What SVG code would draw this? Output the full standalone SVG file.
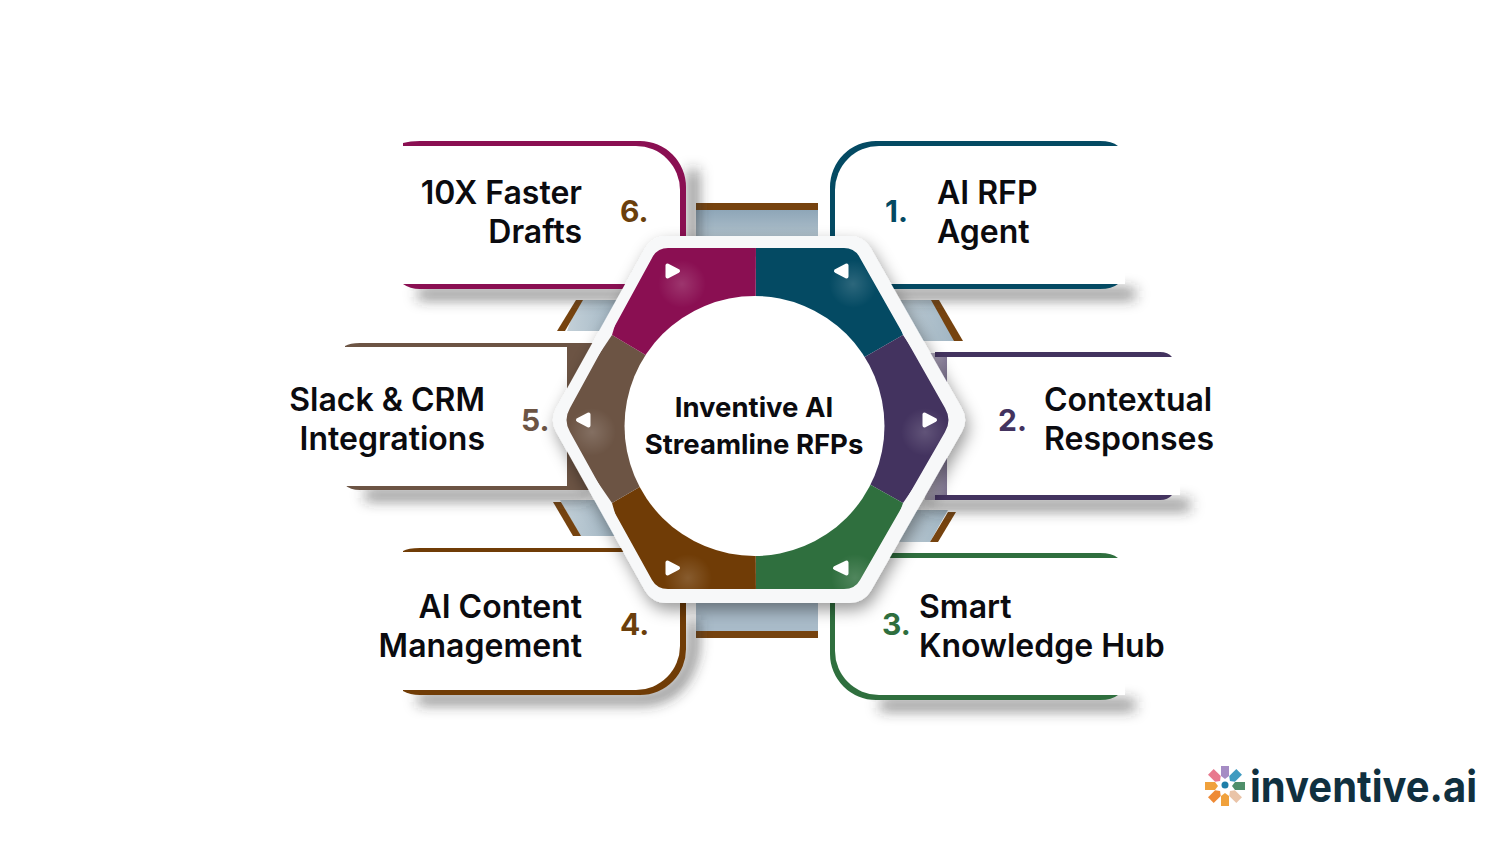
<svg xmlns="http://www.w3.org/2000/svg" width="1500" height="844" viewBox="0 0 1500 844">
<defs>
<style>
.lbl{font-family:"Inter","Liberation Sans",sans-serif;font-weight:600;font-size:32px;fill:#0b0b0f}
.num{font-family:"Inter","Liberation Sans",sans-serif;font-weight:700;font-size:30px}
.ctr{font-family:"Inter","Liberation Sans",sans-serif;font-weight:700;font-size:27.500px;fill:#0b0b0f;text-anchor:middle}
.end{text-anchor:end}
.tri{fill:#fff;stroke:#fff;stroke-width:4;stroke-linejoin:round}
.sh{fill:none;stroke:#333;stroke-opacity:.65;stroke-width:10;stroke-linecap:butt}
.in{fill:#fff}
.gl{fill:url(#glow)}
.br{fill:#76430f}
</style>
<filter id="blur" filterUnits="userSpaceOnUse" x="0" y="0" width="1500" height="844"><feGaussianBlur stdDeviation="7"/></filter>
<filter id="hexsh" filterUnits="userSpaceOnUse" x="0" y="0" width="1500" height="844"><feDropShadow dx="3" dy="7" stdDeviation="8" flood-color="#000" flood-opacity=".4"/></filter>
<radialGradient id="glow"><stop offset="0" stop-color="#fff" stop-opacity=".16"/><stop offset="1" stop-color="#fff" stop-opacity="0"/></radialGradient>
<linearGradient id="gv" x1="0" y1="0" x2="0" y2="1"><stop offset="0" stop-color="#8ea6b8"/><stop offset="1" stop-color="#b3c3cd"/></linearGradient>
<linearGradient id="gh" x1="0" y1="0" x2="1" y2="0"><stop offset="0" stop-color="#c3d0d8"/><stop offset="1" stop-color="#9fb4c2"/></linearGradient>
<linearGradient id="gp" x1="0" y1="0" x2="1" y2="0"><stop offset="0" stop-color="#43335f" stop-opacity=".3"/><stop offset="1" stop-color="#43335f" stop-opacity=".8"/></linearGradient>
<clipPath id="hexclip"><path d="M668 248H844Q855 248 860 258L945 408Q952 420 945 432L860 580Q855 589 844 589H668Q657 589 652 580L570 432Q563 420 570 408L652 258Q657 248 668 248Z"/></clipPath>
<path id="petal" d="M-4 -20H4V-10L0 -7L-4 -10Z"/>
</defs>
<rect width="1500" height="844" fill="#fff"/>

<g id="connectors">
<rect x="696" y="210" width="122" height="30" fill="url(#gv)"/>
<rect class="br" x="696" y="203" width="122" height="7"/>
<rect x="696" y="600" width="122" height="32" fill="#a9bbc9"/>
<rect class="br" x="696" y="631" width="122" height="7"/>
<polygon points="578,300 625,300 625,331 567,331" fill="url(#gh)"/>
<polygon class="br" points="576,300 583,300 565,331 557,331"/>
<polygon points="890,300 933,300 958,341 890,341" fill="url(#gh)"/>
<polygon class="br" points="931,300 939,300 963,341 954,341"/>
<polygon points="560,500 620,500 620,536 580,536" fill="url(#gh)"/>
<polygon class="br" points="553,502 561,502 581,536 573,536"/>
<polygon points="890,510 948,510 930,542 890,542" fill="url(#gh)"/>
<polygon class="br" points="948,512 956,512 938,542 930,542"/>
</g>

<g id="node-6">
<path class="sh" d="M418 294H640Q680 294 693 250V170" filter="url(#blur)"/>
<path fill="#8a0f52" d="M403 143Q410 141 420 141H640A46 46 0 0 1 686 187V260H640V289H420Q410 289 403 284Z"/>
<path class="in" d="M403 146H636A44 44 0 0 1 680 190V284H403Z"/>
<text class="lbl end" x="582" y="204">10X Faster</text>
<text class="lbl end" x="582" y="243">Drafts</text>
<text class="num" x="620" y="222" fill="#6b3f0c">6.</text>
</g>

<g id="node-1">
<path class="sh" d="M890 294H1135" filter="url(#blur)"/>
<path fill="#044a63" d="M1118 146Q1112 141 1100 141H876A46 46 0 0 0 830 187V260H880V289H1100Q1112 289 1118 284Z"/>
<path class="in" d="M1125 146H879A44 44 0 0 0 835 190V284H1125Z"/>
<text class="lbl" x="937" y="204">AI RFP</text>
<text class="lbl" x="937" y="243">Agent</text>
<text class="num" x="885" y="222" fill="#044a63">1.</text>
</g>

<g id="node-5">
<path class="sh" d="M365 495H590" filter="url(#blur)"/>
<path fill="#6c5444" d="M345 346Q350 343 360 343H600V490H360Q350 490 345 485Z"/>
<path class="in" d="M345 347H567V486H345Z"/>
<text class="lbl end" x="485" y="411">Slack &amp; CRM</text>
<text class="lbl end" x="485" y="450">Integrations</text>
<text class="num" x="521" y="431" fill="#6c5444">5.</text>
</g>

<g id="node-2">
<path class="sh" d="M925 505H1190" filter="url(#blur)"/>
<rect x="925" y="353" width="30" height="147" fill="url(#gp)"/>
<path fill="#43335f" d="M935 352H1160Q1168 352 1172 357V495Q1168 500 1160 500H935V495H947V357H935Z"/>
<path class="in" d="M947 357H1180V495H947Z"/>
<text class="lbl" x="1044" y="411">Contextual</text>
<text class="lbl" x="1044" y="450">Responses</text>
<text class="num" x="998" y="431" fill="#43335f">2.</text>
</g>

<g id="node-4">
<path class="sh" d="M418 699H640Q684 699 693 650V620" filter="url(#blur)"/>
<path fill="#703c06" d="M403 551Q408 548 420 548H640V600H686V648A46 46 0 0 1 640 695H420Q410 695 403 691Z"/>
<path class="in" d="M403 552H680V646A44 44 0 0 1 636 690H403Z"/>
<text class="lbl end" x="582" y="618">AI Content</text>
<text class="lbl end" x="582" y="657">Management</text>
<text class="num" x="620" y="635" fill="#6b3f0c">4.</text>
</g>

<g id="node-3">
<path class="sh" d="M880 705H1135" filter="url(#blur)"/>
<path fill="#2f6f3e" d="M880 553H1100Q1112 553 1118 558V695Q1112 700 1100 700H876A46 46 0 0 1 830 654V590H880Z"/>
<path class="in" d="M1125 558H835V651A44 44 0 0 0 879 695H1125Z"/>
<text class="lbl" x="919" y="618">Smart</text>
<text class="lbl" x="919" y="657">Knowledge Hub</text>
<text class="num" x="882" y="635" fill="#2f6f3e">3.</text>
</g>

<g id="hub">
<polygon points="666,260 850,260 941,420 850,579 666,579 577,420" fill="#fff" stroke="#f7f8f9" stroke-width="48" stroke-linejoin="round" filter="url(#hexsh)"/>
<g clip-path="url(#hexclip)">
<polygon points="756,240 870,240 903,335 755,420" fill="#044a63"/>
<polygon points="903,335 960,420 903,503 755,420" fill="#43335f"/>
<polygon points="903,503 870,600 756,600 755,420" fill="#2f6f3e"/>
<polygon points="756,600 640,600 612,503 755,420" fill="#703c06"/>
<polygon points="612,503 555,420 612,335 755,420" fill="#6c5444"/>
<polygon points="612,335 640,240 756,240 755,420" fill="#8a0f52"/>
<circle class="gl" cx="682" cy="284" r="24"/>
<circle class="gl" cx="853" cy="284" r="24"/>
<circle class="gl" cx="925" cy="432" r="24"/>
<circle class="gl" cx="592" cy="432" r="24"/>
<circle class="gl" cx="688" cy="578" r="24"/>
<circle class="gl" cx="855" cy="578" r="24"/>
</g>
<circle cx="754.500" cy="426" r="130" fill="#fff"/>
<polygon class="tri" points="667.500,265.500 667.500,276.500 678,271"/>
<polygon class="tri" points="846.500,265.500 846.500,276.500 836,271"/>
<polygon class="tri" points="924.500,414.500 924.500,425.500 935,420"/>
<polygon class="tri" points="588.500,414.500 588.500,425.500 578,420"/>
<polygon class="tri" points="667.500,562.500 667.500,573.500 678,568"/>
<polygon class="tri" points="846.500,562.500 846.500,573.500 835,568"/>
<text class="ctr" x="754" y="417">Inventive AI</text>
<text class="ctr" x="754" y="454">Streamline RFPs</text>
</g>

<g id="logo">
<use href="#petal" transform="translate(1225 786)" fill="#a58cc4"/>
<use href="#petal" transform="translate(1225 786) rotate(45)" fill="#3f9bc0"/>
<use href="#petal" transform="translate(1225 786) rotate(90)" fill="#4f8f6a"/>
<use href="#petal" transform="translate(1225 786) rotate(135)" fill="#eac4a8"/>
<use href="#petal" transform="translate(1225 786) rotate(180)" fill="#f0a13c"/>
<use href="#petal" transform="translate(1225 786) rotate(225)" fill="#ee8a35"/>
<use href="#petal" transform="translate(1225 786) rotate(270)" fill="#f0a13c"/>
<use href="#petal" transform="translate(1225 786) rotate(315)" fill="#e8798e"/>
<circle cx="1225" cy="785" r="3.500" fill="#1e7fa8"/>
<text x="1250" y="802" font-family="Inter,'Liberation Sans',sans-serif" font-weight="700" font-size="44" fill="#10303f" textLength="227" lengthAdjust="spacingAndGlyphs" style="font-variant-ligatures:none">inventive.ai</text>
</g>
</svg>
